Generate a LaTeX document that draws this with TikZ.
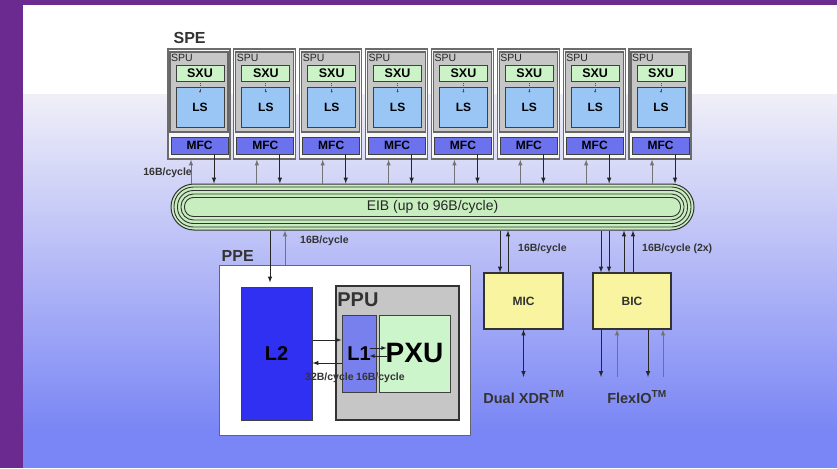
\documentclass[tikz,border=0pt]{standalone}
\usepackage{fontspec}
\setmainfont{Liberation Sans}
\usepackage{tikz}
\usetikzlibrary{shapes,arrows,positioning}
\definecolor{framepurple}{HTML}{6A2A90}
\definecolor{bgtop}{HTML}{F0EFF8}
\definecolor{bgmid}{HTML}{C0C0F0}
\definecolor{bgbot}{HTML}{7A86F5}
\definecolor{spugray}{HTML}{C6C6C6}
\definecolor{sxugreen}{HTML}{CCF2C8}
\definecolor{lsblue}{HTML}{99C6F4}
\definecolor{mfcblue}{HTML}{6C72EE}
\definecolor{eibgreen}{HTML}{C8EEC0}
\definecolor{ltwoblue}{HTML}{3030F2}
\definecolor{loneblue}{HTML}{7880EE}
\definecolor{pxugreen}{HTML}{CCF5CC}
\definecolor{ctrlyellow}{HTML}{F8F4A0}
\definecolor{txtgray}{HTML}{333333}
\newcommand{\pxfont}[1]{\fontsize{#1}{#1}\selectfont}
\tikzset{
    spebox/.style = {rectangle, draw=gray!85!black, fill=white!94!gray, line width=1.2pt, minimum width=62pt, minimum height=110pt, inner sep=0pt},
    spubox/.style = {rectangle, draw=gray!80!black, fill=spugray, line width=1.2pt, minimum width=58pt, minimum height=80pt, inner sep=0pt},
    sxubox/.style = {rectangle, draw=black!75, fill=sxugreen, line width=0.9pt, minimum width=48pt, minimum height=16pt, inner sep=0pt, font=\pxfont{12.5}\bfseries},
    lsbox/.style = {rectangle, draw=black!75, fill=lsblue, line width=0.9pt, minimum width=48pt, minimum height=40pt, inner sep=0pt, font=\pxfont{12}\bfseries},
    mfcbox/.style = {rectangle, draw=black!75, fill=mfcblue, line width=0.9pt, minimum width=57pt, minimum height=17pt, inner sep=0pt, font=\pxfont{12}\bfseries},
    spulbl/.style = {inner sep=0pt, font=\pxfont{10.5}, text=black!85},
    eibbus/.style = {rectangle, rounded corners=23pt, draw=black!80, fill=eibgreen, line width=1pt, minimum width=523pt, minimum height=46pt},
    eibring/.style = {draw=black!80, line width=0.9pt},
    eibtext/.style = {inner sep=0pt, font=\pxfont{14}, text=black!85},
    ppebox/.style = {rectangle, draw=gray!80!black, fill=white, line width=1pt, minimum width=251pt, minimum height=170pt, inner sep=0pt},
    cachebox/.style = {rectangle, draw=black!75, line width=1pt, inner sep=0pt, font=\pxfont{20}\bfseries},
    ppubox/.style = {rectangle, draw=black!80, fill=spugray, line width=1.6pt, minimum width=123pt, minimum height=134pt, inner sep=0pt},
    ctrlbox/.style = {rectangle, draw=black!80, fill=ctrlyellow, line width=1.2pt, minimum width=79pt, minimum height=56pt, inner sep=0pt, font=\pxfont{12}\bfseries, text=black!80},
    titlelbl/.style = {inner sep=0pt, font=\pxfont{16}\bfseries, text=txtgray},
    ratelbl/.style = {inner sep=0pt, font=\pxfont{10.5}\bfseries, text=txtgray},
    portlbl/.style = {inner sep=0pt, font=\pxfont{14.5}\bfseries, text=txtgray},
    upline/.style = {->, draw=black!55, line width=1pt},
    dnline/.style = {->, draw=black!85, line width=1pt}
}

\begin{document}
\begin{tikzpicture}[x=1pt, y=-1pt, >=latex]

    % Backdrop
    \useasboundingbox (0,0) rectangle (837,468);
    \fill[white] (23,5) rectangle (837,95);
    \shade[top color=bgtop, middle color=bgmid, bottom color=bgbot] (23,95) rectangle (837,430);
    \fill[bgbot] (23,430) rectangle (837,468);
    \fill[framepurple] (0,0) rectangle (23,468);
    \fill[framepurple] (0,0) rectangle (837,5);

    % Bus
    \node [eibbus] (eib) at (432.5,207) {};
    \foreach \k in {1,...,4} {
        \pgfmathsetmacro{\rr}{23-3.5*\k-0.01}
        \draw [eibring, rounded corners=\rr pt] ([shift={(3.5*\k,3.5*\k)}]eib.north west) rectangle ([shift={(-3.5*\k,-3.5*\k)}]eib.south east);
    }
    \node [eibtext] (eiblbl) at (eib.center) {EIB (up to 96B/cycle)};

    % SPEs
    \foreach \i in {0,...,7} {
        \pgfmathsetmacro{\cx}{199+65.86*\i}
        \node [spebox] (spe\i) at (\cx,104) {};
        \node [spubox] (spu\i) at (\cx,92) {};
        \node [spulbl, anchor=north west] (spulbl\i) at ([shift={(1.5,2.5)}]spu\i.north west) {SPU};
        \node [sxubox] (sxu\i) at (\cx+1,73) {SXU};
        \node [lsbox] (ls\i) at (\cx+1,107) {LS};
        \node [mfcbox] (mfc\i) at (\cx+0.5,145.5) {MFC};
        \draw [densely dotted, black!70, line width=0.8pt] (sxu\i.south) -- ([yshift=-5pt]ls\i.north);
        \fill [black!70] ([yshift=-5pt]ls\i.north) circle (1pt);
        \coordinate (up\i) at ([xshift=-8pt]spe\i.south);
        \coordinate (dn\i) at ([xshift=14.5pt]mfc\i.south);
        \draw [upline] (up\i |- eib.north) -- (up\i);
        \draw [dnline] (dn\i) -- (dn\i |- eib.north);
    }
    \node [titlelbl, anchor=south west] (spelbl) at ([shift={(6,-5)}]spe0.north west) {SPE};
    \node [ratelbl, anchor=east] (spebw) at (192,173) {16B/cycle};

    % PPE
    \node [ppebox] (ppe) at (344.5,350) {};
    \node [titlelbl, anchor=south west] (ppelbl) at ([shift={(3,-3)}]ppe.north west) {PPE};
    \node [cachebox, fill=ltwoblue, minimum width=71pt, minimum height=133pt] (l2) at (276.5,353.5) {L2};
    \node [ppubox] (ppu) at (397.5,353) {};
    \node [titlelbl, font=\pxfont{20}\bfseries, anchor=south west] (ppulbl) at ([shift={(2,22)}]ppu.north west) {PPU};
    \node [cachebox, fill=loneblue, minimum width=34pt, minimum height=77pt] (l1) at (359,353.5) {L1};
    \node [cachebox, fill=pxugreen, minimum width=71pt, minimum height=77pt, font=\pxfont{28}\bfseries] (pxu) at (414.5,353.5) {PXU};

    \coordinate (ppedn) at ([xshift=-6.5pt]l2.north);
    \coordinate (ppeup) at ([xshift=8.5pt]l2.north);
    \draw [dnline, shorten >=4pt] (ppedn |- eib.south) -- (ppedn);
    \draw [upline] (ppeup |- ppe.north) -- (ppeup |- eib.south);
    \node [ratelbl, anchor=west] (ppebw) at (300,241) {16B/cycle};

    \coordinate (la) at ([yshift=13.5pt]l2.east);
    \coordinate (lb) at ([yshift=-9.5pt]l2.east);
    \draw [dnline] (la) -- (la -| l1.west);
    \draw [dnline] (lb -| l1.west) -- (lb);
    \coordinate (pa) at ([shift={(-7,-5.5)}]l1.east);
    \coordinate (pb) at ([shift={(8,-5.5)}]pxu.west);
    \coordinate (qa) at ([shift={(-7,2.5)}]l1.east);
    \coordinate (qb) at ([shift={(8,2.5)}]pxu.west);
    \draw [dnline, line width=0.8pt] (pa) -- (pb);
    \draw [dnline, line width=0.8pt] (qb) -- (qa);
    \node [ratelbl, anchor=base west] (l2bw) at (305,380) {32B/cycle};
    \node [ratelbl, anchor=base west] (l1bw) at (356,380) {16B/cycle};

    % Interface controllers
    \node [ctrlbox] (mic) at (523.5,301) {MIC};
    \node [ctrlbox, minimum width=78pt] (bic) at (632,301) {BIC};

    \coordinate (md) at ([xshift=-23.5pt]mic.north);
    \coordinate (mu) at ([xshift=-15.5pt]mic.north);
    \draw [dnline] (md |- eib.south) -- (md);
    \draw [dnline] (mu) -- (mu |- eib.south);
    \node [ratelbl, anchor=west] (micbw) at (518,249) {16B/cycle};

    \foreach \dx in {-31,-23} {
        \coordinate (bd) at ([xshift=\dx pt]bic.north);
        \draw [dnline] (bd |- eib.south) -- (bd);
    }
    \foreach \dx in {-8,1} {
        \coordinate (bu) at ([xshift=\dx pt]bic.north);
        \draw [dnline] (bu) -- (bu |- eib.south);
    }
    \node [ratelbl, anchor=west] (bicbw) at (642,249) {16B/cycle (2x)};

    % Off-chip ports
    \coordinate (memio) at (523.5,377);
    \coordinate (ioend) at (632,377);
    \draw [dnline, <->] (mic.south) -- (memio);
    \foreach \dx in {-31,16} {
        \coordinate (od) at ([xshift=\dx pt]bic.south);
        \draw [dnline] (od) -- (od |- ioend);
    }
    \foreach \dx in {-15,31} {
        \coordinate (ou) at ([xshift=\dx pt]bic.south);
        \draw [upline] (ou |- ioend) -- (ou);
    }
    \node [portlbl] (xdr) at (524,397) {Dual XDR\textsuperscript{TM}};
    \node [portlbl] (flexio) at (637,397) {FlexIO\textsuperscript{TM}};

\end{tikzpicture}
\end{document}
